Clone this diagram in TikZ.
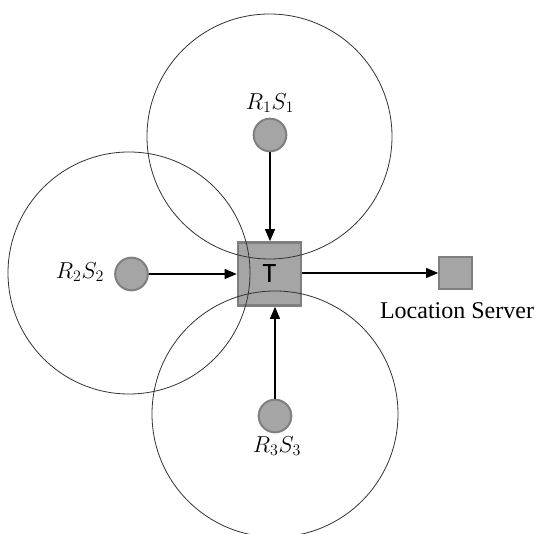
\documentclass[tikz,border=0pt]{standalone}
\usepackage{fontspec}
\setmainfont{Liberation Serif}
\newfontfamily\calib{Carlito}
\usetikzlibrary{arrows.meta}
\definecolor{nodefill}{HTML}{A5A5A5}
\definecolor{nodeedge}{HTML}{7F7F7F}
\tikzset{
  rangering/.style={draw=black!80, line width=0.6pt},
  station/.style={circle, fill=nodefill, draw=nodeedge, line width=1.5pt, minimum size=24.5pt, inner sep=0pt},
  tag/.style={rectangle, fill=nodefill, draw=nodeedge, line width=1.8pt, minimum size=47.5pt, inner sep=0pt, font=\calib\fontsize{21}{24}\selectfont},
  server/.style={rectangle, fill=nodefill, draw=nodeedge, line width=1.5pt, minimum size=24.5pt, inner sep=0pt},
  lbl/.style={inner sep=0pt, font=\fontsize{17}{19}\selectfont},
  link/.style={draw=black, line width=0.8pt, -{Triangle[length=9pt,width=7.5pt]}}
}
\begin{document}
\begin{tikzpicture}[x=0.75pt,y=-0.75pt]
\useasboundingbox (0,0) rectangle (540,534);
\clip (0,0) rectangle (540,534);
\fill[white] (0,0) rectangle (540,534);
% nodes
\node[station] (s1) at (270,135) {};
\node[station] (s2) at (131.5,274) {};
\node[station] (s3) at (275,416) {};
\node[tag] (t) at (269.5,274) {T};
\node[server] (ls) at (455.5,273) {};
% labels
\node[lbl] (l1) at (270,103) {$R_1S_1$};
\node[lbl] (l2) at (80,272) {$R_2S_2$};
\node[lbl] (l3) at (277,446) {$R_3S_3$};
\node[inner sep=0pt, font=\fontsize{18}{20}\selectfont] (lsl) at (457,311) {Location Server};
% range circles (drawn over the tag)
\draw[rangering] (269.5,136.5) circle[radius=122.5];
\draw[rangering] (129,273) circle[radius=121];
\draw[rangering] (275,414) circle[radius=123];
% connectors
\draw[link] (s1) -- (s1 |- t.north);
\draw[link] (s2) -- (t.west |- s2);
\draw[link] (s3) -- (s3 |- t.south);
\draw[link] (t.east |- ls) -- (ls.west);
\end{tikzpicture}
\end{document}
